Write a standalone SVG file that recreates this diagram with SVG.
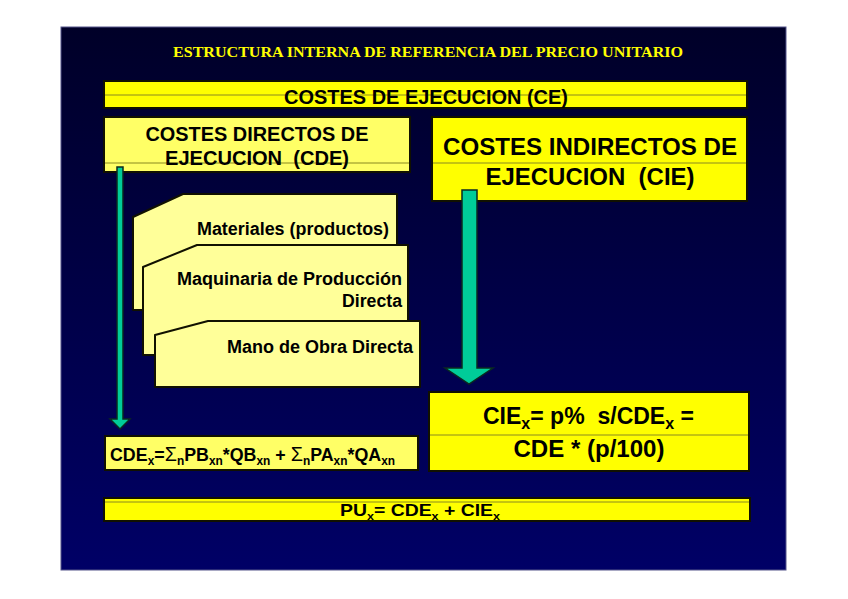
<svg xmlns="http://www.w3.org/2000/svg" width="848" height="599" viewBox="0 0 848 599">
  <defs>
    <linearGradient id="bg" x1="0" y1="0" x2="0" y2="1">
      <stop offset="0" stop-color="#000028"/>
      <stop offset="1" stop-color="#000066"/>
    </linearGradient>
    <style>
      .box { stroke: #111100; stroke-width: 2; }
      .y { fill: #ffff00; }
      .py { fill: #ffff66; }
      .card { fill: #ffff99; stroke: #111100; stroke-width: 2; stroke-linejoin: round; }
      .sep { stroke: #8a8a20; stroke-width: 1; }
      .t { font-family: "Liberation Sans", Arial, sans-serif; font-weight: bold; fill: #000; white-space: pre; }
      .title { font-family: "Liberation Serif", "Times New Roman", serif; font-weight: bold; fill: #ffff00; font-size: 14.5px; }
      .arrow { fill: #00cc99; stroke: #0a2a20; stroke-width: 1.5; stroke-linejoin: miter; }
      .sig { font-weight: normal; }
    </style>
  </defs>

  <rect x="0" y="0" width="848" height="599" fill="#ffffff"/>
  <rect id="background" x="61" y="27" width="725" height="543" fill="url(#bg)" stroke="#55558a" stroke-width="1"/>

  <text class="title" x="428" y="57" text-anchor="middle" textLength="510" lengthAdjust="spacingAndGlyphs">ESTRUCTURA INTERNA DE REFERENCIA DEL PRECIO UNITARIO</text>

  <g id="ce">
    <rect class="box y" x="104" y="81" width="643" height="27"/>
    <line class="sep" x1="105" y1="95" x2="746" y2="95" stroke="#5a5a00"/>
    <text class="t" x="426" y="104" font-size="19.5" text-anchor="middle" textLength="284" lengthAdjust="spacingAndGlyphs">COSTES DE EJECUCION (CE)</text>
  </g>

  <g id="cde">
    <rect class="box py" x="104" y="117" width="306" height="55"/>
    <line class="sep" x1="105" y1="163" x2="409" y2="163"/>
    <text class="t" x="257" y="141" font-size="20" text-anchor="middle" textLength="223" lengthAdjust="spacingAndGlyphs">COSTES DIRECTOS DE</text>
    <text class="t" x="257" y="165" font-size="20" text-anchor="middle" textLength="184" lengthAdjust="spacingAndGlyphs">EJECUCION  (CDE)</text>
  </g>

  <g id="cie">
    <rect class="box y" x="432" y="117" width="315" height="84"/>
    <line class="sep" x1="433" y1="163" x2="746" y2="163"/>
    <text class="t" x="590" y="155" font-size="24" text-anchor="middle" textLength="294" lengthAdjust="spacingAndGlyphs">COSTES INDIRECTOS DE</text>
    <text class="t" x="590" y="185" font-size="24" text-anchor="middle" textLength="209" lengthAdjust="spacingAndGlyphs">EJECUCION  (CIE)</text>
  </g>

  <g id="connectors">
    <path class="arrow" d="M117,167 L123,167 L123,419 L130,419 L120,429 L110,419 L117,419 Z"/>
    <path class="arrow" d="M462,190 L477,190 L477,368 L493,368 L469,384 L445,368 L462,368 Z"/>
  </g>

  <g id="materiales">
    <path class="card" d="M133,217 L183,194 L397,194 L397,310 L133,310 Z"/>
    <text class="t" x="389" y="235" font-size="18" text-anchor="end" textLength="192" lengthAdjust="spacingAndGlyphs">Materiales (productos)</text>
  </g>

  <g id="maquinaria">
    <path class="card" d="M143,267 L197,245 L408,245 L408,355 L143,355 Z"/>
    <text class="t" x="402" y="285" font-size="18" text-anchor="end" textLength="225" lengthAdjust="spacingAndGlyphs">Maquinaria de Producción</text>
    <text class="t" x="402" y="307" font-size="18" text-anchor="end" textLength="60" lengthAdjust="spacingAndGlyphs">Directa</text>
  </g>

  <g id="mano-obra">
    <path class="card" d="M155,335 L208,321 L420,321 L420,387 L155,387 Z"/>
    <text class="t" x="413" y="353" font-size="18" text-anchor="end" textLength="186" lengthAdjust="spacingAndGlyphs">Mano de Obra Directa</text>
  </g>

  <g id="cde-formula">
    <rect class="box py" x="105" y="436" width="313" height="34"/>
    <text class="t" x="110" y="461" font-size="18" textLength="285" lengthAdjust="spacingAndGlyphs">CDE<tspan font-size="12" dy="4">x</tspan><tspan dy="-4">=</tspan><tspan class="sig" font-size="20">Σ</tspan><tspan font-size="12" dy="4">n</tspan><tspan dy="-4">PB</tspan><tspan font-size="12" dy="4">xn</tspan><tspan dy="-4">*QB</tspan><tspan font-size="12" dy="4">xn</tspan><tspan dy="-4"> + </tspan><tspan class="sig" font-size="20">Σ</tspan><tspan font-size="12" dy="4">n</tspan><tspan dy="-4">PA</tspan><tspan font-size="12" dy="4">xn</tspan><tspan dy="-4">*QA</tspan><tspan font-size="12" dy="4">xn</tspan></text>
  </g>

  <g id="cie-formula">
    <rect class="box y" x="429" y="392" width="320" height="79"/>
    <line class="sep" x1="430" y1="435" x2="748" y2="435"/>
    <text class="t" x="483" y="424" font-size="23" textLength="211" lengthAdjust="spacingAndGlyphs">CIE<tspan font-size="16" dy="5">x</tspan><tspan dy="-5">= p%  s/CDE</tspan><tspan font-size="16" dy="5">x</tspan><tspan dy="-5"> =</tspan></text>
    <text class="t" x="589" y="457" font-size="23" text-anchor="middle" textLength="151" lengthAdjust="spacingAndGlyphs">CDE * (p/100)</text>
  </g>

  <g id="pu">
    <rect class="box y" x="104" y="498" width="646" height="23"/>
    <line class="sep" x1="105" y1="502" x2="749" y2="502" stroke="#5a5a00"/>
    <text class="t" x="340" y="516" font-size="17" textLength="160" lengthAdjust="spacingAndGlyphs">PU<tspan font-size="11" dy="4">x</tspan><tspan dy="-4">= CDE</tspan><tspan font-size="11" dy="4">x</tspan><tspan dy="-4"> + CIE</tspan><tspan font-size="11" dy="4">x</tspan></text>
  </g>
</svg>
